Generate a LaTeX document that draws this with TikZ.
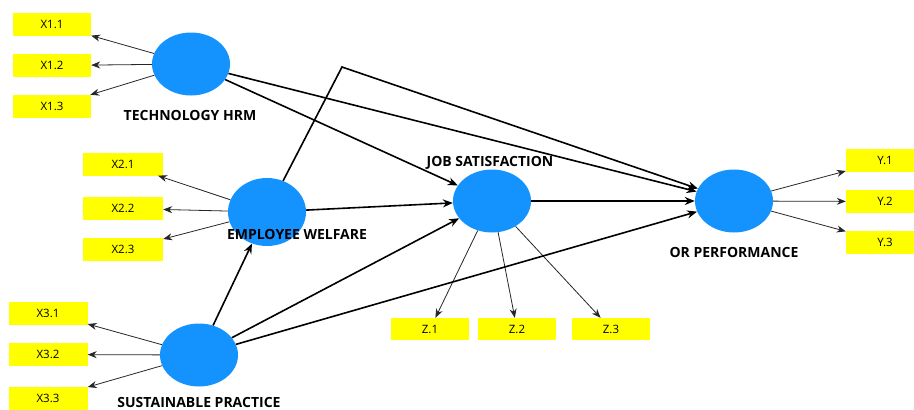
\documentclass[tikz,border=0pt]{standalone}
\usepackage{fontspec}
\setmainfont{Open Sans}
\usetikzlibrary{arrows.meta, shapes.geometric}
\definecolor{latentblue}{HTML}{1493FF}
\definecolor{itemyellow}{HTML}{FFFF00}

\begin{document}
\begin{tikzpicture}[
  x=1pt, y=-1pt,
  every node/.style={align=center},
  % Constructs - blue ellipses
  latent/.style={ellipse, fill=latentblue, minimum width=78pt, minimum height=63pt, inner sep=0pt},
  % Indicators - yellow boxes
  item/.style={rectangle, fill=itemyellow, minimum width=78pt, minimum height=23pt, inner sep=0pt, font=\fontsize{11.5}{13}\selectfont},
  % Loadings (construct -> indicator) - thin arrows
  loading/.style={-{Stealth[length=9pt, width=7pt]}, line width=0.8pt, draw=black!85},
  % Structural paths - thick arrows
  relation/.style={-{Stealth[length=10pt, width=8pt]}, line width=1.6pt, draw=black},
  latentlabel/.style={font=\bfseries\fontsize{14}{16}\selectfont}
]
\useasboundingbox (0,0) rectangle (914,410);

% === CONSTRUCTS ===
\node[latent] (tech) at (191, 64) {};
\node[latent, minimum height=68pt] (welfare) at (267, 212) {};
\node[latent] (sustain) at (199, 355) {};
\node[latent] (jobsat) at (492, 201) {};
\node[latent] (perform) at (734, 201) {};

% === INDICATORS ===
\node[item] (x11) at (52, 24.5) {X1.1};
\node[item] (x12) at (52, 65.5) {X1.2};
\node[item] (x13) at (52, 106.5) {X1.3};

\node[item, minimum width=80pt] (x21) at (123, 164) {X2.1};
\node[item, minimum width=80pt] (x22) at (123, 208.5) {X2.2};
\node[item, minimum width=80pt] (x23) at (123, 249.5) {X2.3};

\node[item, minimum width=79pt] (x31) at (48, 313) {X3.1};
\node[item, minimum width=79pt] (x32) at (48, 354.5) {X3.2};
\node[item, minimum width=79pt] (x33) at (48, 398.5) {X3.3};

\node[item, minimum height=22pt] (z1) at (430, 329) {Z.1};
\node[item, minimum height=22pt] (z2) at (517, 329) {Z.2};
\node[item, minimum height=22pt] (z3) at (611, 329) {Z.3};

\node[item] (y1) at (885, 160.5) {Y.1};
\node[item] (y2) at (885, 201.5) {Y.2};
\node[item] (y3) at (885, 242) {Y.3};

% === LABELS ===
\node[latentlabel] (techlabel) at (190, 115) {TECHNOLOGY HRM};
\node[latentlabel] (welfarelabel) at (297, 234) {EMPLOYEE WELFARE};
\node[latentlabel] (sustainlabel) at (199, 402) {SUSTAINABLE PRACTICE};
\node[latentlabel] (jobsatlabel) at (490, 163) {JOB SATISFACTION};
\node[latentlabel] (performlabel) at (734, 252) {OR PERFORMANCE};

% === LOADINGS ===
\foreach \t in {x11, x12, x13} \draw[loading] (tech) -- (\t);
\foreach \t in {x21, x22, x23} \draw[loading] (welfare) -- (\t);
\foreach \t in {x31, x32, x33} \draw[loading] (sustain) -- (\t);
\foreach \t in {z1, z2, z3} \draw[loading] (jobsat) -- (\t);
\foreach \t in {y1, y2, y3} \draw[loading] (perform) -- (\t);

% === PATHS ===
\coordinate (bend) at (342, 67);
\draw[relation] (tech) -- (jobsat);
\draw[relation] (tech) -- (perform);
\draw[relation] (welfare) -- (bend) -- (perform);
\draw[relation] (welfare) -- (jobsat);
\draw[relation] (sustain) -- (welfare);
\draw[relation] (sustain) -- (jobsat);
\draw[relation] (sustain) -- (perform);
\draw[relation] (jobsat) -- (perform);

\end{tikzpicture}
\end{document}
